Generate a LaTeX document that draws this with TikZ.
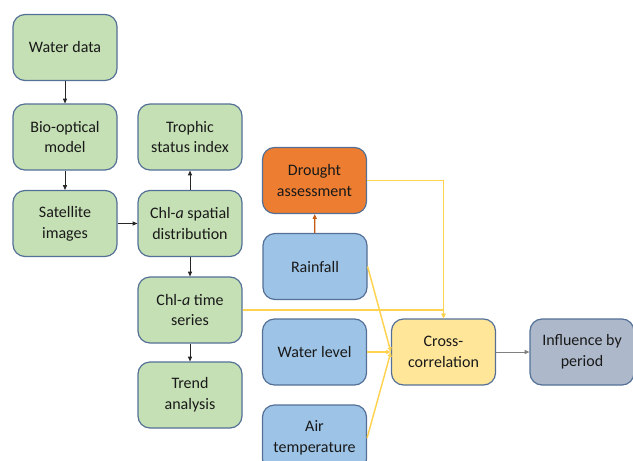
\documentclass[tikz,border=0pt]{standalone}
\usepackage{fontspec}
\setmainfont{Carlito}
\usetikzlibrary{arrows.meta}

\definecolor{boxline}{RGB}{84,112,150}
\definecolor{greenfill}{RGB}{197,224,180}
\definecolor{orangefill}{RGB}{237,125,49}
\definecolor{bluefill}{RGB}{157,195,230}
\definecolor{yellowfill}{RGB}{255,230,153}
\definecolor{grayfill}{RGB}{173,185,202}
\definecolor{yellowline}{RGB}{255,210,80}
\definecolor{orangeline}{RGB}{197,90,17}

\tikzset{
  box/.style={draw=boxline, line width=0.9pt, rounded corners=9pt,
    minimum width=78pt, minimum height=49.5pt, align=center,
    font=\fontsize{12}{15.5}\selectfont, text=black!90},
  greenbox/.style={box, fill=greenfill},
  orangebox/.style={box, fill=orangefill},
  bluebox/.style={box, fill=bluefill},
  yellowbox/.style={box, fill=yellowfill},
  graybox/.style={box, fill=grayfill},
  tip/.style={-{Triangle[length=3.5pt,width=3pt]}},
  blk/.style={tip, draw=black!85, line width=0.6pt},
  ylw/.style={tip, draw=yellowline, line width=1.1pt},
  org/.style={tip, draw=orangeline, line width=1pt},
  gry/.style={tip, draw=gray, line width=0.6pt}
}

\begin{document}
\begin{tikzpicture}[x=0.75pt,y=0.75pt,yscale=-1,xscale=1]
\useasboundingbox (0,0) rectangle (633,461);

% Left chain
\node[greenbox] (water) at (65,47.5) {Water data};
\node[greenbox] (bio) at (65,137) {Bio-optical\\model};
\node[greenbox] (sat) at (65,223.5) {Satellite\\images};

% Chl-a column
\node[greenbox] (trophic) at (190,137) {Trophic\\status index};
\node[greenbox] (spatial) at (190,223.5) {Chl-\textit{a} spatial\\distribution};
\node[greenbox] (series) at (190,310) {Chl-\textit{a} time\\series};
\node[greenbox] (trend) at (190,395) {Trend\\analysis};

% Climate column
\node[orangebox] (drought) at (314.5,180.5) {Drought\\assessment};
\node[bluebox] (rain) at (315,266.5) {Rainfall};
\node[bluebox] (level) at (314.5,352) {Water level};
\node[bluebox] (air) at (314.5,438) {Air\\temperature};

% Result
\node[yellowbox] (cross) at (443.5,352) {Cross-\\correlation};
\node[graybox] (infl) at (582,352) {Influence by\\period};

% Connectors
\draw[blk] (water) -- (bio);
\draw[blk] (bio) -- (sat);
\draw[blk] (sat) -- (spatial);
\draw[blk] (spatial) -- (trophic);
\draw[blk] (spatial) -- (series);
\draw[blk] (series) -- (trend);
\draw[org] (rain) -- (drought);
\draw[ylw] (drought.east) -| (cross.north);
\draw[ylw] (series.east) -| (cross.north);
\draw[ylw] (rain.east) -- (cross.west);
\draw[ylw] (level) -- (cross);
\draw[ylw] (air.east) -- (cross.west);
\draw[gry] (cross) -- (infl);

\end{tikzpicture}
\end{document}
